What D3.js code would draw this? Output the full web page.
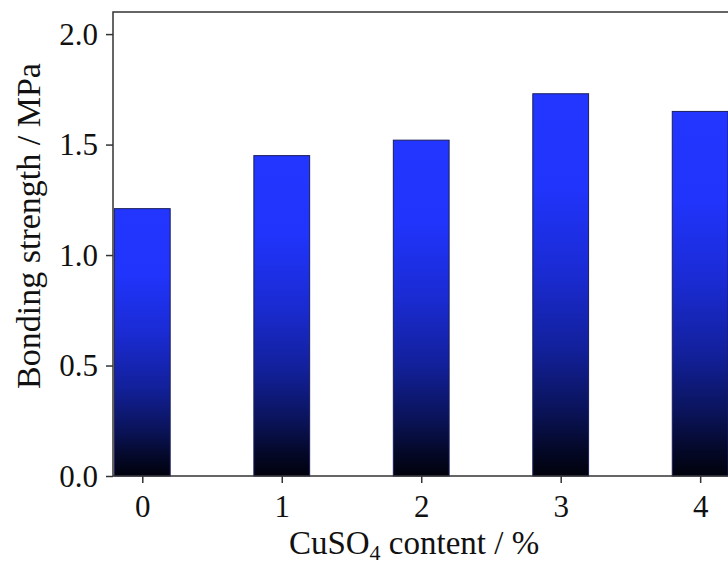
<!DOCTYPE html>
<html>
<head>
<meta charset="utf-8">
<script src="https://cdn.jsdelivr.net/npm/d3@7"></script>
<style>
  body { margin: 0; background: #fff; }
  svg text { font-family: "Liberation Serif", "Times New Roman", serif; fill: #111; }
</style>
</head>
<body>
<div id="chart"></div>
<script>
// data
const contents = [0, 1, 2, 3, 4];
const strengths = [1.21, 1.45, 1.52, 1.73, 1.65];
const yTicks = [0.0, 0.5, 1.0, 1.5, 2.0];

const width = 728, height = 565;
const margin = { left: 113, top: 12, right: -14, bottom: 89 };

const svg = d3.select("#chart").append("svg")
    .attr("width", width)
    .attr("height", height);

const x = d3.scaleLinear()
    .domain([-0.21, 4.3])
    .range([margin.left, width - margin.right]);

const y = d3.scaleLinear()
    .domain([0, 2.1])
    .range([height - margin.bottom, margin.top]);

// gradient: bright blue at top, fading to black at bottom of each bar
const grad = svg.append("defs").append("linearGradient")
    .attr("id", "barGrad")
    .attr("x1", 0).attr("y1", 0).attr("x2", 0).attr("y2", 1);
[
    [0, "#2236ff"], [0.25, "#2034fb"], [0.47, "#1a2bd2"],
    [0.67, "#12209a"], [0.83, "#0a1358"], [0.93, "#040828"], [1, "#01020c"]
].forEach(([o, c]) => grad.append("stop").attr("offset", o).attr("stop-color", c));

const barW = x(0.2) - x(-0.2);

// bars
svg.selectAll("rect.bar")
    .data(contents)
    .enter()
    .append("rect")
    .attr("class", "bar")
    .attr("x", (d) => x(d) - barW / 2)
    .attr("y", (d, i) => y(strengths[i]))
    .attr("width", barW)
    .attr("height", (d, i) => y(0) - y(strengths[i]))
    .attr("fill", "url(#barGrad)")
    .attr("stroke", "#1a1f5a")
    .attr("stroke-width", 1);

// frame (right edge falls outside the picture)
svg.append("rect")
    .attr("x", x.range()[0])
    .attr("y", y.range()[1])
    .attr("width", x.range()[1] - x.range()[0])
    .attr("height", y.range()[0] - y.range()[1])
    .attr("fill", "none")
    .attr("stroke", "#333")
    .attr("stroke-width", 1.5);

// y axis
const yAxis = svg.append("g")
    .attr("transform", `translate(${margin.left},0)`)
    .call(d3.axisLeft(y).tickValues(yTicks).tickFormat(d3.format(".1f"))
        .tickSize(7).tickPadding(8).tickSizeOuter(0));
yAxis.select(".domain").remove();
yAxis.selectAll("line").attr("stroke", "#333").attr("stroke-width", 1.5);
yAxis.selectAll("text").style("font-size", "31px").attr("dy", "0.33em")
    .style("font-family", "Liberation Serif").attr("fill", "#111");

// x axis
const xAxis = svg.append("g")
    .attr("transform", `translate(0,${y(0)})`)
    .call(d3.axisBottom(x).tickValues(contents).tickFormat(d3.format("d"))
        .tickSize(7).tickSizeOuter(0));
xAxis.select(".domain").remove();
xAxis.selectAll("line").attr("stroke", "#333").attr("stroke-width", 1.5);
xAxis.selectAll("text").style("font-size", "31px").attr("y", 41).attr("dy", 0)
    .style("font-family", "Liberation Serif").attr("fill", "#111");

// axis titles
svg.append("text")
    .attr("transform", "translate(40,226) rotate(-90)")
    .attr("text-anchor", "middle")
    .style("font-size", "34px")
    .text("Bonding strength / MPa");

const xt = svg.append("text")
    .attr("x", 414)
    .attr("y", 554)
    .attr("text-anchor", "middle")
    .style("font-size", "33px");
xt.append("tspan").text("CuSO");
xt.append("tspan").attr("dy", 6).style("font-size", "22px").text("4");
xt.append("tspan").attr("dy", -6).text(" content / %");
</script>
</body>
</html>
